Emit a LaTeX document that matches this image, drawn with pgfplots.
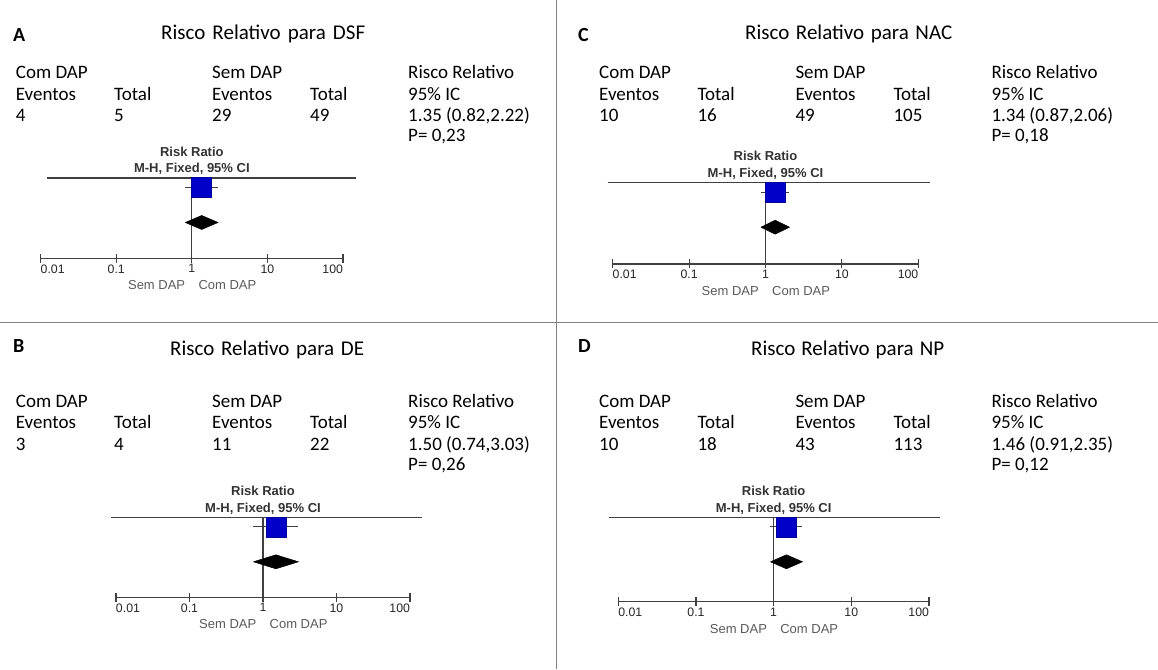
\documentclass[border=0pt]{standalone}
\usepackage{pgfplots}
\pgfplotsset{compat=1.18}
\usepackage{fontspec}
\setmainfont{Carlito}
\newfontfamily\arial{Liberation Sans}
\definecolor{linec}{HTML}{404040}
\definecolor{divc}{HTML}{808080}
\definecolor{sqc}{HTML}{0000C8}
\definecolor{labc}{HTML}{5A5A5A}

% #1 x of 0.01, #2 x of 100, #3 top rule y, #4 axis line y (pixels from top)
% #5 estimate, #6 lower, #7 upper, #8 top rule left x, #9 top rule right x
\newcommand{\forestplot}[9]{%
 \pgfmathsetmacro\Hh{#4-#3}%
 \pgfmathsetmacro\Ww{#2-#1}%
 \pgfmathsetmacro\Ys{\Hh-9.5}%
 \pgfmathsetmacro\Yd{\Hh-44.5}%
 \pgfmathsetmacro\Ydt{\Yd+7}%
 \pgfmathsetmacro\Ydb{\Yd-7}%
 \pgfmathsetmacro\Yr{\Hh+26.5}%
 \pgfmathsetmacro\Ym{\Hh+8.8}%
 \pgfmathsetmacro\Rl{(#8-#1)/\Ww}%
 \pgfmathsetmacro\Rr{(#9-#1)/\Ww}%
 \pgfmathsetmacro\Yb{669-#4}%
 \begin{axis}[at={(#1pt,\Yb pt)}, anchor=south west,
   xmode=log, xmin=0.01, xmax=100, ymin=0, ymax=\Hh,
   scale only axis, width=\Ww pt, height=\Hh pt,
   axis x line*=bottom, axis y line=none,
   xtick={0.01,0.1,1,10,100},
   xticklabels={{\rlap{0.01}},0.1,1,10,{\llap{100}}},
   xminorticks=false,
   tick align=center, major tick length=9pt,
   every tick/.append style={linec, line width=1.1pt},
   axis line style={linec, line width=1.1pt},
   xticklabel style={font=\arial\fontsize{12.3}{12.3}\selectfont, text=black!85, inner sep=0pt, yshift=-1.5pt},
   clip=false]
   \draw[linec, line width=1.1pt] (axis cs:1,0) -- (axis cs:1,\Hh);
   \draw[linec, line width=1.1pt] (rel axis cs:\Rl,1) -- (rel axis cs:\Rr,1);
   \addplot[linec, line width=1pt] coordinates {(#6,\Ys) (#7,\Ys)};
   \addplot[only marks, mark=square*, mark size=10pt, mark options={fill=sqc, draw=sqc!75!black, line width=0.5pt}] coordinates {(#5,\Ys)};
   \addplot[fill=black, draw=black, line width=0.5pt] coordinates {(#6,\Yd) (#5,\Ydt) (#7,\Yd) (#5,\Ydb) (#6,\Yd)};
   \node[font=\arial\bfseries\fontsize{13}{13}\selectfont, text=black!80, inner sep=0pt] at (axis cs:1,\Yr) {Risk Ratio};
   \node[font=\arial\bfseries\fontsize{13}{13}\selectfont, text=black!80, inner sep=0pt] at (axis cs:1,\Ym) {M-H, Fixed, 95\% CI};
   \node[font=\arial\fontsize{13}{13}\selectfont, text=labc, inner sep=0pt, anchor=east] at ([xshift=-6.5pt]axis cs:1,-27) {Sem DAP};
   \node[font=\arial\fontsize{13}{13}\selectfont, text=labc, inner sep=0pt, anchor=west] at ([xshift=6.5pt]axis cs:1,-27) {Com DAP};
 \end{axis}%
}

\newcommand{\tx}[3]{\node[anchor=base west, inner sep=0pt, font=\fontsize{19}{22}\selectfont] at (#1,669-#2) {#3};}
\newcommand{\ttl}[4]{\node[anchor=base west, inner sep=0pt, font=\fontsize{21}{24}\selectfont] at (#1,669-#2) {\makebox[#3pt][s]{#4}};}
\newcommand{\lett}[3]{\node[anchor=base west, inner sep=0pt, font=\bfseries\fontsize{20}{22}\selectfont] at (#1,669-#2) {#3};}

% table: #1 col1 x, #2 first baseline, #3..#6 numbers, #7 RR, #8 P
\newcommand{\tabl}[8]{%
 \pgfmathsetmacro\ca{#1}\pgfmathsetmacro\cb{#1+98.3}\pgfmathsetmacro\cc{#1+196.3}\pgfmathsetmacro\cd{#1+294.3}\pgfmathsetmacro\ce{#1+392.3}%
 \pgfmathsetmacro\ra{#2}\pgfmathsetmacro\rb{#2+21.5}\pgfmathsetmacro\rc{#2+43}\pgfmathsetmacro\rd{#2+63}%
 \tx{\ca}{\ra}{Com DAP}\tx{\cc}{\ra}{Sem DAP}\tx{\ce}{\ra}{Risco Relativo}%
 \tx{\ca}{\rb}{Eventos}\tx{\cb}{\rb}{Total}\tx{\cc}{\rb}{Eventos}\tx{\cd}{\rb}{Total}\tx{\ce}{\rb}{95\% IC}%
 \tx{\ca}{\rc}{#3}\tx{\cb}{\rc}{#4}\tx{\cc}{\rc}{#5}\tx{\cd}{\rc}{#6}\tx{\ce}{\rc}{#7}%
 \tx{\ce}{\rd}{#8}%
}

\begin{document}
\begin{tikzpicture}[x=1pt,y=1pt]
\path[use as bounding box, fill=white] (0,0) rectangle (1158,669);
% dividers
\draw[divc, line width=1.5pt] (556.3,0) -- (556.3,669);
\draw[divc, line width=1.5pt] (0,669-322.7) -- (1158,669-322.7);

% Panel A
\lett{13}{41.7}{A}
\ttl{161}{40}{204}{Risco Relativo para DSF}
\tabl{15.7}{79}{4}{5}{29}{49}{1.35 (0.82,2.22)}{P= 0,23}
\forestplot{40.7}{343}{178}{258.3}{1.35}{0.82}{2.22}{46.7}{356}

% Panel B
\lett{13}{352.7}{B}
\ttl{170}{356}{194}{Risco Relativo para DE}
\tabl{15.7}{407.5}{3}{4}{11}{22}{1.50 (0.74,3.03)}{P= 0,26}
\forestplot{116}{410}{517.3}{597.3}{1.50}{0.74}{3.03}{111}{421.7}

% Panel C
\lett{578}{41.7}{C}
\ttl{745}{40}{207}{Risco Relativo para NAC}
\tabl{599}{79}{10}{16}{49}{105}{1.34 (0.87,2.06)}{P= 0,18}
\forestplot{612.7}{918.3}{182.7}{264}{1.34}{0.87}{2.06}{607.7}{930}

% Panel D
\lett{578}{352.7}{D}
\ttl{751}{356}{193}{Risco Relativo para NP}
\tabl{599}{407.5}{10}{18}{43}{113}{1.46 (0.91,2.35)}{P= 0,12}
\forestplot{618.3}{929}{517.3}{601.7}{1.46}{0.91}{2.35}{609.3}{940}
\end{tikzpicture}
\end{document}
